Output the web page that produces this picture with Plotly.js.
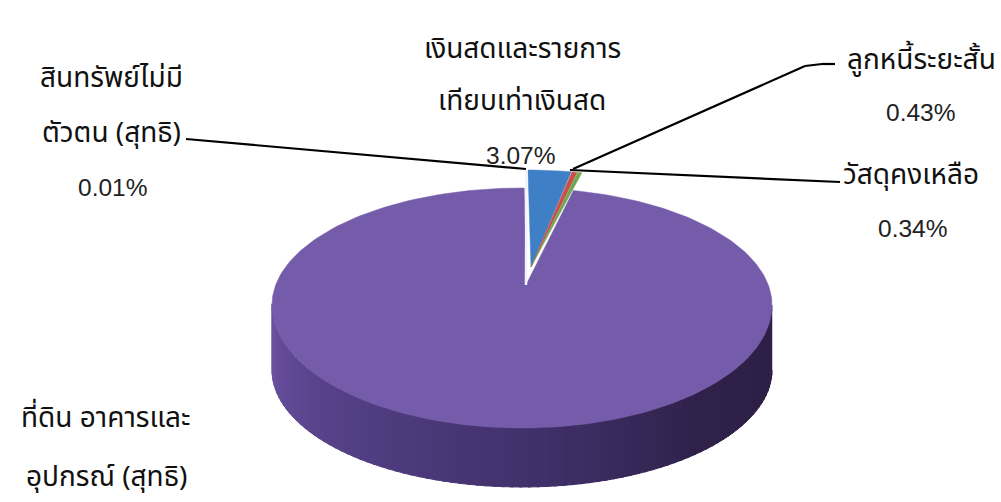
<!DOCTYPE html>
<html><head><meta charset="utf-8">
<script src="https://cdn.plot.ly/plotly-3.0.1.min.js"></script>
<style>html,body{margin:0;padding:0;background:#fff}</style></head>
<body><div id="c" style="width:1001px;height:502px"></div>
<script>
const categories = ["สินทรัพย์ไม่มีตัวตน (สุทธิ)","เงินสดและรายการเทียบเท่าเงินสด","ลูกหนี้ระยะสั้น","วัสดุคงเหลือ","ที่ดิน อาคารและอุปกรณ์ (สุทธิ)"];
const values = [0.01, 3.07, 0.43, 0.34, 96.15];
const sliceColors = ["#eef4fb","#3f7fc6","#c9504a","#6fa650","#755cab"];
const tickPct = ["0.01%","3.07%","0.43%","0.34%"];

// projection of the tilted disc (near half of the top face looks slightly taller)
const cx=522, cy=305, rx=250, ryBack=117, ryFront=123, ryOuter=117, depth=65;
const hub=[526,285], explode=[5,-18], squeeze=0.9, t0=0.23;
const rad=t=>t*Math.PI/180;
const P=t=>{const c=Math.cos(rad(t));return [cx+rx*Math.sin(rad(t)), cy-(c>0?ryBack:ryFront)*c];};
const O=t=>[cx+rx*Math.sin(rad(t)), cy+depth-ryOuter*Math.cos(rad(t))];
const deg=v=>v*3.6;
const traces=[];
function poly(pts,color,lineColor,w){
  traces.push({type:'scatter',mode:'lines',x:pts.map(p=>p[0]),y:pts.map(p=>p[1]),fill:'toself',fillcolor:color,
    line:{color:lineColor||color,width:w===undefined?0.5:w},hoverinfo:'skip',showlegend:false});
}
function arc(a,b,n,off,f){off=off||[0,0];f=f||P;const r=[];for(let i=0;i<=n;i++){const p=f(a+(b-a)*i/n);r.push([p[0]+off[0],p[1]+off[1]]);}return r;}
function lerp(a,b,f){return a.map((v,i)=>Math.round(v+(b[i]-v)*f));}

// exploded small slices
let t=t0; const spans=values.slice(1,4).map(v=>deg(v)*squeeze);
const apex=[hub[0]+explode[0],hub[1]+explode[1]];
const endT=t0+spans.reduce((a,b)=>a+b,0);
// green outer wall behind the big slice
const rimEnd=arc(endT,endT,0,explode)[0];
poly([apex,rimEnd,[rimEnd[0],rimEnd[1]+24],[apex[0],apex[1]+24]],"#7d9f4e");

// wall of the big slice, shaded left to right
const stops=[[92,[44,30,68]],[135,[47,33,74]],[170,[62,46,102]],[225,[84,64,134]],[268,[108,82,162]]];
function wallColor(a){
  for(let i=0;i<stops.length-1;i++){if(a<=stops[i+1][0]){const f=(a-stops[i][0])/(stops[i+1][0]-stops[i][0]);return 'rgb('+lerp(stops[i][1],stops[i+1][1],Math.max(0,f)).join(',')+')';}}
  return 'rgb('+stops[stops.length-1][1].join(',')+')';
}
const wallStep=2;
for(let a=90;a<270;a+=wallStep){
  const top=arc(a,a+wallStep+0.6,3), bot=arc(a,a+wallStep+0.6,3,[0,0],O).reverse();
  poly(top.concat(bot),wallColor(a),wallColor(a),1);
}
// top of the big slice
const purpleArc=arc(endT-0.8,360.5,240);
poly([hub].concat(purpleArc).concat([hub]),sliceColors[4]);

// small slices on top
spans.forEach((s,i)=>{
  const a=arc(t,t+s,8,explode);
  poly([apex].concat(a).concat([apex]),sliceColors[i+1]);
  t+=s;
});
// the intangible sliver
const sl=arc(t0-deg(values[0]),t0,1,explode);
traces.push({type:'scatter',mode:'lines',x:[hub[0],sl[0][0]-1.5],y:[hub[1],sl[0][1]],line:{color:sliceColors[0],width:2.5},hoverinfo:'skip',showlegend:false});

const fontThai={family:'"Noto Sans Thai","Noto Sans","DejaVu Sans",sans-serif',size:28,color:'#111'};
const fontNum={family:'"Liberation Sans",Arial,sans-serif',size:24.5,color:'#222'};
const notes=[
 ["เงินสดและรายการ",522,49,0],["เทียบเท่าเงินสด",522,101,0],[tickPct[1],520,155,1],
 ["สินทรัพย์ไม่มี",111,78,0],["ตัวตน (สุทธิ)",111,133,0],[tickPct[0],112,187,1],
 ["ลูกหนี้ระยะสั้น",921,60,0],[tickPct[2],920,112,1],
 ["วัสดุคงเหลือ",911,175,0],[tickPct[3],912,228,1],
 ["ที่ดิน อาคารและ",106,418,0],["อุปกรณ์ (สุทธิ)",106,477,0]
];
const leaders=[
 [[186,139],[526,169]],
 [[835,64],[822,64],[805,66],[573,169]],
 [[840,182],[570,170]]
];
const shapes=[];
leaders.forEach(l=>{for(let i=0;i<l.length-1;i++)shapes.push({type:'line',xref:'x',yref:'y',x0:l[i][0],y0:l[i][1],x1:l[i+1][0],y1:l[i+1][1],line:{color:'#000',width:2.2},layer:'above'});});

const hidden={visible:false,fixedrange:true,showgrid:false,zeroline:false};
Plotly.newPlot('c',traces,{
  width:1001,height:502,margin:{l:0,r:0,t:0,b:0},paper_bgcolor:'#fff',plot_bgcolor:'#fff',showlegend:false,
  xaxis:Object.assign({range:[0,1001]},hidden),
  yaxis:Object.assign({range:[502,0]},hidden),
  shapes:shapes,
  annotations:notes.map(n=>({text:n[0],x:n[1],y:n[2],xref:'x',yref:'y',showarrow:false,font:n[3]?fontNum:fontThai,xanchor:'center',yanchor:'middle'}))
},{staticPlot:true,displayModeBar:false});
</script></body></html>
